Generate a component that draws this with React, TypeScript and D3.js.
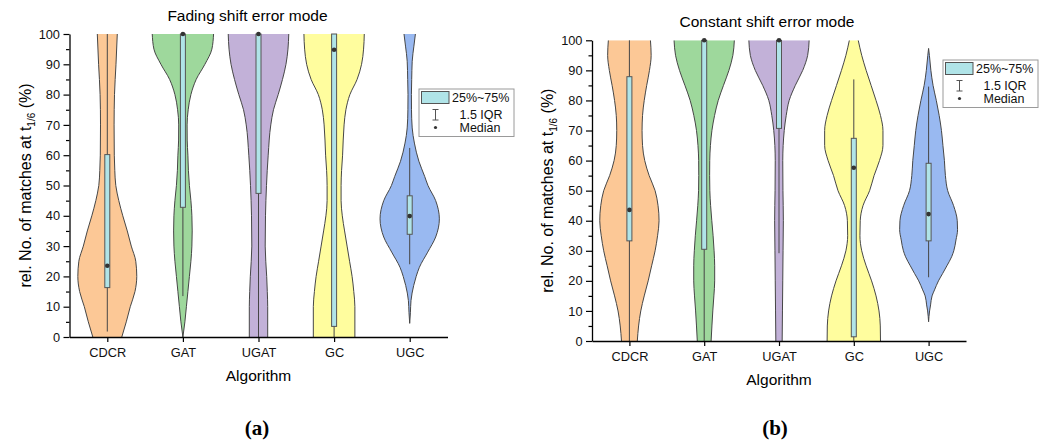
import { useEffect, useRef } from 'react'
import * as d3 from 'd3'

const algorithms = ['CDCR', 'GAT', 'UGAT', 'GC', 'UGC']
const violinColors = ['#fcc896', '#9ed89c', '#c2b1d8', '#fffd9e', '#99b9f1']

// violin outlines: [rel. matches %, density (arb. units)]
const fadingCDCR = [[0, 14.5], [5, 19], [10, 23], [15, 27.7], [20, 29.5], [25, 28.5], [30, 24], [35, 20], [40, 15.5], [45, 11.5], [50, 8.5], [55, 7.5], [60, 7], [70, 6.8], [80, 7.2], [90, 8.7], [100, 10]]
const fadingGAT = [[0, 0], [5, 2], [10, 3.5], [15, 5], [20, 6.5], [25, 8], [30, 9], [35, 9.3], [40, 9], [45, 8], [50, 6.5], [55, 5.5], [60, 5], [65, 4.3], [70, 4.2], [75, 5.3], [80, 8], [85, 13.3], [90, 22], [95, 29], [100, 30.7]]
const fadingUGAT = [[0, 9.2], [10, 9.2], [15, 8.8], [20, 8.2], [30, 6.7], [40, 7], [50, 8], [60, 9.7], [70, 12.3], [75, 15], [80, 19.7], [85, 24], [90, 27.5], [95, 29.5], [100, 30.3]]
const fadingGC = [[0, 20.8], [10, 20.8], [15, 19.7], [20, 18], [25, 15.5], [30, 13], [35, 10.5], [40, 8.2], [45, 7], [50, 7], [55, 7.5], [60, 8.5], [70, 10], [75, 11.8], [80, 15.8], [85, 23], [90, 27.5], [95, 29.5], [100, 30.2]]
const fadingUGC = [[4.5, 0], [8, 0.7], [12, 1.3], [17, 4], [20, 6.5], [23, 9.7], [28, 18], [33, 26], [39, 29.7], [45, 26], [50, 18.3], [53, 15], [58, 9.2], [64, 4.7], [69, 2.5], [75, 1.8], [80, 1.7], [85, 2], [91, 2.5], [96, 4.2], [100, 5.7]]

const constCDCR = [[0, 8], [5, 9.3], [10, 11.5], [15, 15], [20, 19], [25, 22.5], [30, 26], [35, 28.5], [40, 30], [45, 29], [50, 26], [55, 20], [60, 15.5], [65, 13.3], [70, 12.8], [75, 13.3], [80, 15], [85, 17.5], [90, 20.3], [95, 22], [100, 21.3]]
const constGAT = [[0, 7], [5, 7.8], [10, 8.7], [15, 9.8], [20, 10.6], [25, 10.6], [30, 10], [35, 9], [40, 7.7], [45, 6.5], [50, 5.7], [55, 5.5], [60, 5.6], [65, 6.3], [70, 7.8], [75, 10.5], [80, 14.2], [85, 19.5], [90, 25], [95, 29], [100, 30.5]]
const constUGAT = [[0, 3.2], [10, 3.5], [20, 3.8], [30, 4.1], [40, 4.4], [50, 4], [60, 3.8], [65, 4.2], [70, 5.3], [75, 7.3], [80, 10.3], [85, 16.5], [90, 24], [95, 29], [100, 30.5]]
const constGC = [[0, 27], [5, 26.8], [10, 25.5], [15, 22.5], [20, 18], [25, 12.5], [30, 8], [35, 6.2], [40, 6.5], [45, 9.3], [50, 16], [55, 20.5], [60, 26], [65, 29.5], [70, 29.5], [75, 27], [80, 22.5], [85, 17.5], [90, 12.5], [95, 8], [100, 4.5]]
const constUGC = [[6.4, 0], [10, 1], [12, 2], [15, 3.5], [17, 6], [20, 10], [22.5, 14.3], [25, 18.5], [28, 23.3], [30, 25.5], [33.6, 27.7], [37, 29.3], [40, 29], [45, 25.3], [50, 19.3], [55, 17], [60, 16], [65, 14.5], [70, 13], [75, 10.7], [80, 7.8], [85, 4.5], [90, 2.3], [95, 0.8], [97.3, 0]]

// box stats, one per algorithm
const fadingQ1 = [16.3, 42.8, 47.4, 3.5, 33.9]
const fadingMedian = [23.5, 100, 100, 94.8, 39.9]
const fadingQ3 = [60.2, 100, 100, 100, 46.6]
const fadingLow = [1.8, 13.5, 0, 0, 24]
const fadingHigh = [100, 100, 100, 100, 62.4]

const constQ1 = [33.3, 30.5, 70.7, 1.4, 33.3]
const constMedian = [43.6, 100, 100, 57.6, 42.2]
const constQ3 = [87.9, 100, 100, 67.4, 59.1]
const constLow = [0, 0, 29.2, 0, 21.2]
const constHigh = [100, 100, 100, 87, 84.6]

const yTicks = [0, 10, 20, 30, 40, 50, 60, 70, 80, 90, 100]
const yMinorTicks = [5, 15, 25, 35, 45, 55, 65, 75, 85, 95]

const font = '"Liberation Sans", Arial, sans-serif'
const boxFill = '#b0e4e8'
const edge = '#464646'

function drawPanel(svg: any, cfg: any) {
	const g = svg.append('g')

	const x = d3.scalePoint().domain(algorithms).range([cfg.left, cfg.right]).padding(0.5)
	const y = d3.scaleLinear().domain([0, 100]).range([cfg.bottom, cfg.top])
	const w = d3.scaleLinear().domain([0, 30.5]).range([0, x.step() * 0.403])

	g.append('clipPath').attr('id', cfg.id)
		.append('rect')
		.attr('x', cfg.left).attr('y', cfg.top)
		.attr('width', cfg.right - cfg.left).attr('height', cfg.bottom - cfg.top)

	const violins = g.append('g').attr('clip-path', `url(#${cfg.id})`)

	algorithms.forEach((name, i) => {
		const cx = x(name) as number
		const prof = cfg.profiles[i]

		const area = d3.area<number[]>()
			.y(d => y(d[0]))
			.x0(d => cx - w(d[1]))
			.x1(d => cx + w(d[1]))
			.curve(d3.curveMonotoneY)
		violins.append('path').attr('d', area(prof)).attr('fill', violinColors[i])

		// outline only on the sides, not on truncated ends
		const leftEdge = d3.line<number[]>().y(d => y(d[0])).x(d => cx - w(d[1])).curve(d3.curveMonotoneY)
		const rightEdge = d3.line<number[]>().y(d => y(d[0])).x(d => cx + w(d[1])).curve(d3.curveMonotoneY)
		violins.append('path').attr('d', leftEdge(prof)).attr('fill', 'none').attr('stroke', edge).attr('stroke-width', 1)
		violins.append('path').attr('d', rightEdge(prof)).attr('fill', 'none').attr('stroke', edge).attr('stroke-width', 1)
	})

	// whiskers, boxes, medians
	algorithms.forEach((name, i) => {
		const cx = x(name) as number
		g.append('line')
			.attr('x1', cx).attr('x2', cx)
			.attr('y1', y(cfg.low[i])).attr('y2', y(cfg.high[i]))
			.attr('stroke', edge).attr('stroke-width', 1)
		g.append('rect')
			.attr('x', cx - 2.5).attr('width', 5)
			.attr('y', y(cfg.q3[i])).attr('height', Math.max(0.5, y(cfg.q1[i]) - y(cfg.q3[i])))
			.attr('fill', boxFill).attr('stroke', '#555').attr('stroke-width', 1)
		g.append('circle')
			.attr('cx', cx).attr('cy', y(cfg.median[i])).attr('r', 2.3)
			.attr('fill', '#333')
	})

	// y axis, major + minor ticks
	const yAxis = g.append('g')
		.attr('transform', `translate(${cfg.left},0)`)
		.call(d3.axisLeft(y).tickValues(yTicks).tickSize(6).tickSizeOuter(0).tickPadding(3.5))
	g.append('g')
		.attr('transform', `translate(${cfg.left},0)`)
		.call(d3.axisLeft(y).tickValues(yMinorTicks).tickSize(3.5).tickSizeOuter(0).tickFormat(() => ''))
		.call((a: any) => a.select('.domain').remove())

	const xAxis = g.append('g')
		.attr('transform', `translate(0,${cfg.bottom})`)
		.call(d3.axisBottom(x).tickSize(5).tickSizeOuter(0).tickPadding(6))

	const axes = [yAxis, xAxis]
	axes.forEach(a => {
		a.selectAll('path, line').attr('stroke', '#000').attr('stroke-width', 1.3)
		a.selectAll('text').attr('fill', '#111').attr('font-size', '12.8px').attr('font-family', font)
	})
	g.selectAll('.tick line').attr('stroke', '#000').attr('stroke-width', 1.2)

	// labels
	g.append('text')
		.attr('x', cfg.titleX).attr('y', cfg.titleY)
		.attr('text-anchor', 'middle').attr('font-size', '15.5px').attr('font-family', font)
		.text(cfg.title)

	g.append('text')
		.attr('x', (cfg.left + cfg.right) / 2).attr('y', cfg.bottom + 44)
		.attr('text-anchor', 'middle').attr('font-size', '15.5px').attr('font-family', font)
		.text('Algorithm')

	const yl = g.append('text')
		.attr('transform', `translate(${cfg.labelX},${(cfg.top + cfg.bottom) / 2}) rotate(-90)`)
		.attr('dy', '0.35em')
		.attr('text-anchor', 'middle').attr('font-size', '16px').attr('font-family', font)
	yl.append('tspan').text('rel. No. of matches at t')
	yl.append('tspan').attr('font-size', '10px').attr('dy', 4).text('1/6')
	yl.append('tspan').attr('dy', -4).text(' (%)')

	g.append('text')
		.attr('x', cfg.tagX).attr('y', 435)
		.attr('text-anchor', 'middle').attr('font-size', '21px').attr('font-weight', 'bold')
		.attr('font-family', '"Liberation Serif", "DejaVu Serif", serif')
		.text(cfg.tag)

	// legend
	const lg = g.append('g').attr('transform', `translate(${cfg.legendX},${cfg.legendY})`)
	lg.append('rect').attr('width', 95).attr('height', 47.5)
		.attr('fill', '#fff').attr('stroke', '#9a9a9a').attr('stroke-width', 1)
	lg.append('rect').attr('x', 2.5).attr('y', 2.5).attr('width', 27.5).attr('height', 12)
		.attr('fill', boxFill).attr('stroke', '#555').attr('stroke-width', 1)
	lg.append('path').attr('d', 'M13.5,20.5H19.5M16.5,20.5V31M13.5,31H19.5')
		.attr('fill', 'none').attr('stroke', '#555').attr('stroke-width', 1)
	lg.append('circle').attr('cx', 16.5).attr('cy', 38.5).attr('r', 1.6).attr('fill', '#333')
	const legendRows = [['25%~75%', 33, 13], ['1.5 IQR', 40.5, 29.5], ['Median', 40.5, 43]]
	legendRows.forEach(([t, lx, ly]) => {
		lg.append('text').attr('x', lx).attr('y', ly)
			.attr('font-size', '12.5px').attr('font-family', font).attr('fill', '#111')
			.text(t as string)
	})
}

export default function App() {
	const ref = useRef<SVGSVGElement>(null)

	useEffect(() => {
		const svg = d3.select(ref.current)
		svg.selectAll('*').remove()

		drawPanel(svg, {
			id: 'clipA', title: 'Fading shift error mode', tag: '(a)',
			left: 69.5, right: 447.5, top: 34, bottom: 337,
			titleX: 247.5, titleY: 21, labelX: 25, tagX: 257, legendX: 419, legendY: 89,
			profiles: [fadingCDCR, fadingGAT, fadingUGAT, fadingGC, fadingUGC],
			q1: fadingQ1, median: fadingMedian, q3: fadingQ3, low: fadingLow, high: fadingHigh,
		})
		drawPanel(svg, {
			id: 'clipB', title: 'Constant shift error mode', tag: '(b)',
			left: 592, right: 966, top: 40.3, bottom: 341,
			titleX: 767, titleY: 27, labelX: 547, tagX: 775, legendX: 943, legendY: 60,
			profiles: [constCDCR, constGAT, constUGAT, constGC, constUGC],
			q1: constQ1, median: constMedian, q3: constQ3, low: constLow, high: constHigh,
		})
	}, [])

	return (
		<svg ref={ref} width={1048} height={444}
			style={{ position: 'absolute', left: 0, top: 0, background: '#fff' }} />
	)
}
